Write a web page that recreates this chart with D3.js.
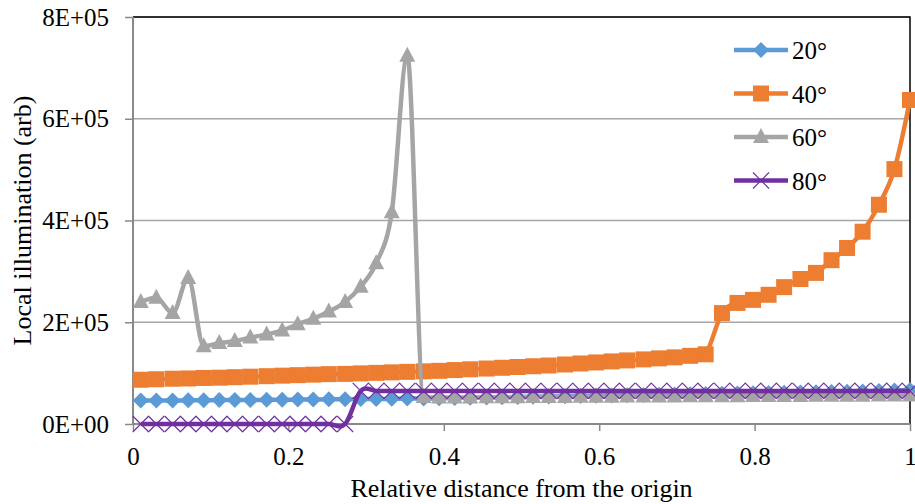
<!DOCTYPE html>
<html>
<head>
<meta charset="utf-8">
<script src="https://cdn.jsdelivr.net/npm/d3@7"></script>
<style>
  body { margin: 0; background: #fff; }
</style>
</head>
<body>
<div class="chart"></div>
<script>
'use strict';

// relative distance (shared by all four series)
const xValues = [0.010, 0.030, 0.051, 0.071, 0.091, 0.111, 0.131, 0.151, 0.172, 0.192,
                 0.212, 0.232, 0.252, 0.273, 0.293, 0.313, 0.333, 0.353, 0.374, 0.394,
                 0.414, 0.434, 0.455, 0.475, 0.495, 0.515, 0.535, 0.556, 0.576, 0.596,
                 0.616, 0.636, 0.657, 0.677, 0.697, 0.717, 0.737, 0.758, 0.778, 0.798,
                 0.818, 0.838, 0.859, 0.879, 0.899, 0.919, 0.939, 0.960, 0.980, 1.000];

const values20 = [46000, 46000, 46000, 46500, 46500, 47000, 47000, 47000, 47500, 47500,
                  48000, 48000, 48500, 48500, 49000, 49000, 49500, 50000, 50000, 50500,
                  51000, 51500, 52000, 52500, 53000, 53500, 54000, 54500, 55000, 55500,
                  56000, 56500, 57000, 57500, 58000, 58500, 59000, 59500, 60000, 60500,
                  61000, 61500, 62000, 62500, 63000, 63500, 64000, 65000, 66000, 67000];

const values40 = [87000, 88000, 89000, 89500, 90500, 91000, 92000, 93000, 94000, 95000,
                  96000, 97000, 98000, 98500, 99500, 100500, 101500, 102500, 103500, 104500,
                  106000, 107500, 109000, 110500, 112000, 113500, 115000, 117000, 119000, 121000,
                  123000, 125000, 127000, 129000, 131000, 134000, 137000, 218000, 238000, 244000,
                  254000, 269000, 285000, 297000, 322000, 346000, 378000, 431000, 501000, 637000];

const values60 = [240000, 248000, 218000, 287000, 153000, 159000, 163000, 170000, 176000, 184000,
                  196000, 207000, 221000, 240000, 270000, 316000, 416000, 724000, 53000, 52000,
                  52000, 52000, 52500, 52500, 52500, 53000, 53000, 53000, 53500, 53500,
                  53500, 54000, 54000, 54000, 54000, 54500, 54500, 54500, 54500, 55000,
                  55000, 55000, 55000, 55500, 55500, 55500, 55500, 56000, 56000, 56000];

const values80 = [0, 0, 0, 0, 0, 0, 0, 0, 0, 0,
                  0, 0, 0, 0, 65000, 65000, 65000, 65000, 65000, 65000,
                  65000, 65000, 65000, 65000, 65000, 65000, 65000, 65000, 65000, 65000,
                  65000, 65000, 65000, 65000, 65000, 65000, 65000, 65000, 65000, 65000,
                  65000, 65000, 65000, 65000, 65000, 65000, 65000, 65000, 65000, 65000];

const seriesNames = ["20°", "40°", "60°", "80°"];
const xTicks = [0, 0.2, 0.4, 0.6, 0.8, 1];
const yTicks = [0, 200000, 400000, 600000, 800000];

const width = 915, height = 504;
const plot = {left: 133, right: 910, top: 17, bottom: 424};
const serif = "'Liberation Serif', 'Times New Roman', Times, serif";

const styles = [
  {color: "#5B9BD5", marker: "diamond", curve: d3.curveCatmullRom.alpha(0)},
  {color: "#ED7D31", marker: "square", curve: d3.curveCatmullRom.alpha(0)},
  {color: "#A5A5A5", marker: "triangle", curve: d3.curveMonotoneX},
  {color: "#7030A0", marker: "cross", curve: d3.curveCatmullRom.alpha(0)}
];

const svg = d3.select(".chart").append("svg")
  .attr("width", width).attr("height", height);

const x = d3.scaleLinear().domain([0, 1]).range([plot.left, plot.right]);
const y = d3.scaleLinear().domain([0, 800000]).range([plot.bottom, plot.top]);

// gridlines
svg.append("g").selectAll("line")
  .data(yTicks.slice(1))
  .enter().append("line")
  .attr("x1", plot.left).attr("x2", plot.right)
  .attr("y1", d => y(d)).attr("y2", d => y(d))
  .attr("stroke", "#a6a6a6").attr("stroke-width", 1.5);

// plot border (top / right)
svg.append("path")
  .attr("d", `M${plot.left},${plot.top}H${plot.right}V${plot.bottom}`)
  .attr("fill", "none").attr("stroke", "#000").attr("stroke-width", 1.5);

// axes
const yAxis = svg.append("g")
  .attr("transform", `translate(${plot.left},0)`)
  .call(d3.axisLeft(y).tickValues(yTicks).tickSize(8).tickPadding(16)
    .tickFormat(d => d === 0 ? "0E+00" : (d / 100000) + "E+05"));

const xAxis = svg.append("g")
  .attr("transform", `translate(0,${plot.bottom})`)
  .call(d3.axisBottom(x).tickValues(xTicks).tickSize(7).tickPadding(16)
    .tickFormat(d => String(d)));

[yAxis, xAxis].forEach(ax => {
  ax.attr("font-family", null).attr("font-size", null);
  ax.select(".domain").attr("stroke", "#898989").attr("stroke-width", 2);
  ax.selectAll(".tick line").attr("stroke", "#898989").attr("stroke-width", 1.5);
  ax.selectAll(".tick text")
    .style("font-family", serif).style("font-size", "25px").attr("fill", "#000");
});
yAxis.select(".domain").attr("d", `M0,${plot.bottom}V${plot.top}`);
xAxis.select(".domain").attr("d", `M${plot.left},0H${plot.right}`);

function markerPath(type) {
  if (type === "diamond") return "M0,-8L8,0L0,8L-8,0Z";
  if (type === "square") return "M-8,-8H8V8H-8Z";
  if (type === "triangle") return "M0,-9L8,6L-8,6Z";
  return "M-8,-8L8,8M8,-8L-8,8";
}

function drawMarkers(g, type, color, pts) {
  g.selectAll("path.mk")
    .data(pts)
    .enter().append("path")
    .attr("class", "mk")
    .attr("transform", d => `translate(${d[0]},${d[1]})`)
    .attr("d", markerPath(type))
    .attr("fill", type === "cross" ? "none" : color)
    .attr("stroke", color)
    .attr("stroke-width", type === "cross" ? 1.2 : 0);
}

const allValues = [values20, values40, values60, values80];

allValues.forEach((vals, i) => {
  const pts = xValues.map((xv, j) => [x(xv), y(vals[j])]);
  const line = d3.line().curve(styles[i].curve);
  const g = svg.append("g");
  g.append("path")
    .attr("d", line(pts))
    .attr("fill", "none")
    .attr("stroke", styles[i].color)
    .attr("stroke-width", 4.5)
    .attr("stroke-linejoin", "round");
  drawMarkers(g, styles[i].marker, styles[i].color, pts);
});

// legend
const legend = svg.append("g");
seriesNames.forEach((name, i) => {
  const ly = 50 + i * 43.5;
  const g = legend.append("g");
  g.append("line")
    .attr("x1", 734).attr("x2", 788).attr("y1", ly).attr("y2", ly)
    .attr("stroke", styles[i].color).attr("stroke-width", 4.5);
  drawMarkers(g, styles[i].marker, styles[i].color, [[761, ly]]);
  g.append("text")
    .attr("x", 792).attr("y", ly + 9)
    .style("font-family", serif).style("font-size", "25px")
    .text(name);
});

// axis titles
svg.append("text")
  .attr("x", (plot.left + plot.right) / 2).attr("y", 497)
  .attr("text-anchor", "middle")
  .style("font-family", serif).style("font-size", "26px")
  .text("Relative distance from the origin");

svg.append("text")
  .attr("transform", `translate(31,${(plot.top + plot.bottom) / 2}) rotate(-90)`)
  .attr("text-anchor", "middle")
  .style("font-family", serif).style("font-size", "26px")
  .text("Local illumination (arb)");
</script>
</body>
</html>
